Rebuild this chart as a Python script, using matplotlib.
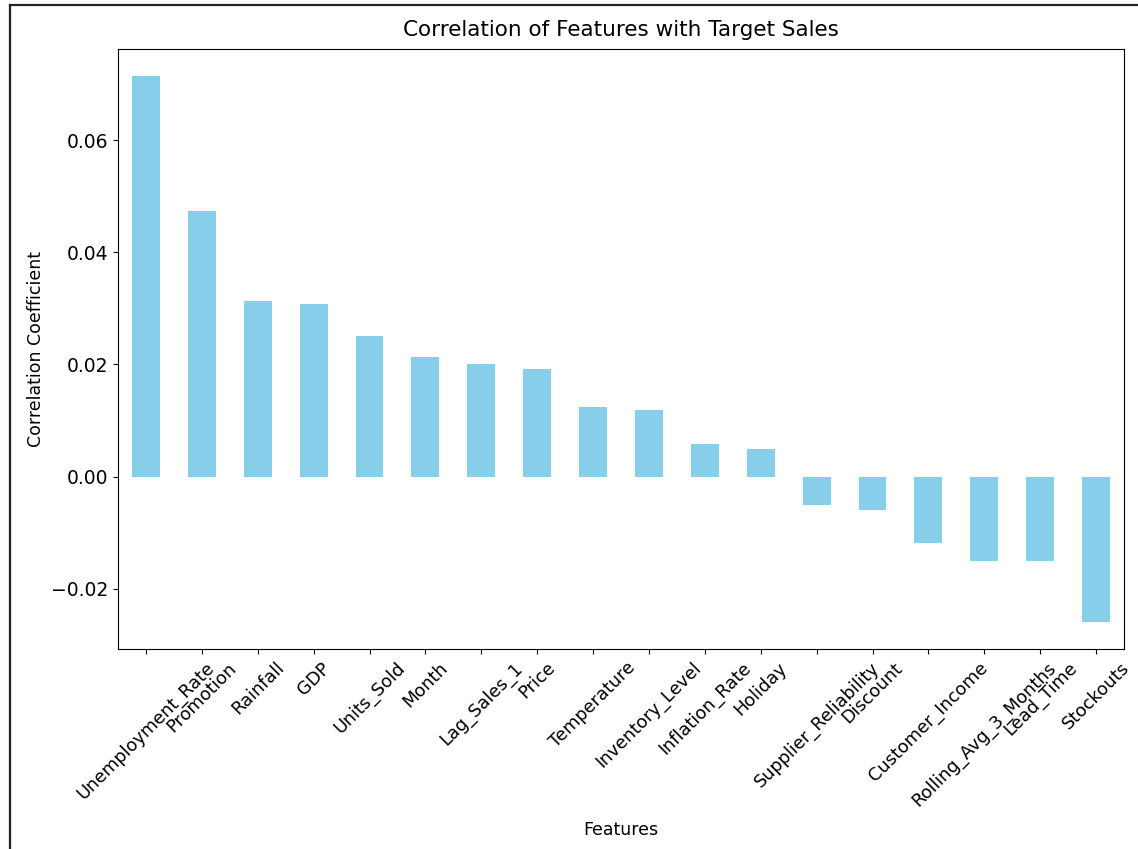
import numpy as np
import matplotlib
matplotlib.use('Agg')
import matplotlib.pyplot as plt
from matplotlib.lines import Line2D

features = ['Unemployment_Rate', 'Promotion', 'Rainfall', 'GDP', 'Units_Sold',
            'Month', 'Lag_Sales_1', 'Price', 'Temperature', 'Inventory_Level',
            'Inflation_Rate', 'Holiday', 'Supplier_Reliability', 'Discount',
            'Customer_Income', 'Rolling_Avg_3_Months', 'Lead_Time', 'Stockouts']
corr = [0.0714, 0.0473, 0.0313, 0.0307, 0.0251,
        0.0213, 0.0201, 0.0192, 0.0124, 0.0118,
        0.0058, 0.0049, -0.0051, -0.0060,
        -0.0118, -0.0151, -0.0151, -0.0259]

W, H = 1138, 849
fig = plt.figure(figsize=(W / 100, H / 100), dpi=100)
ax = fig.add_axes([118 / W, (H - 649) / H, 1006 / W, 600 / H])

x = np.arange(len(features))
ax.bar(x, corr, width=0.5, color='skyblue')
ax.set_xlim(-0.5, len(features) - 0.5)
ax.set_xticks(x)
ax.set_xticklabels(features, rotation=45, fontsize=12.8)
ax.tick_params(axis='y', labelsize=13.5)
ax.set_title('Correlation of Features with Target Sales', fontsize=15.5, pad=9)
ax.set_xlabel('Features', fontsize=12.5, labelpad=8)
ax.set_ylabel('Correlation Coefficient', fontsize=12.5)

# screenshot frame
fig.add_artist(Line2D([10 / W, 10 / W], [0, 1 - 5 / H], color='#222222', lw=1.6))
fig.add_artist(Line2D([10 / W, 1], [1 - 5 / H, 1 - 5 / H], color='#222222', lw=1.6))

fig.savefig('out.png', dpi=100)
